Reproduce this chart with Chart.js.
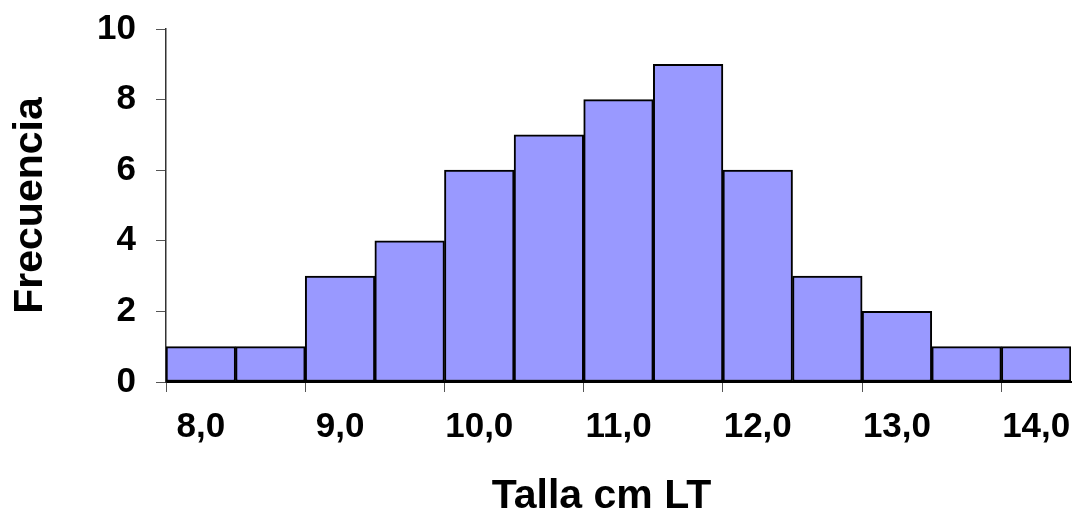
<!DOCTYPE html>
<html>
<head>
<meta charset="utf-8">
<script src="https://cdn.jsdelivr.net/npm/chart.js@4.4.1/dist/chart.umd.min.js"></script>
<style>
  html, body { margin: 0; padding: 0; background: #fff; }
  #wrap { width: 1076px; height: 514px; }
</style>
</head>
<body>
<div id="wrap"><canvas id="myChart" width="1076" height="514"></canvas></div>
<script>
// size classes (cm LT), every other one gets a label
const tallas = ['8,0', '8,5', '9,0', '9,5', '10,0', '10,5', '11,0', '11,5', '12,0', '12,5', '13,0', '13,5', '14,0'];
const frecuencia = [1, 1, 3, 4, 6, 7, 8, 9, 6, 3, 2, 1, 1];
const yTicks = [0, 2, 4, 6, 8, 10];
const xTitle = 'Talla cm LT';

const FONT = "'Liberation Sans', Arial, sans-serif";

// x title sits a bit left of the plot centre in the original
const xTitlePlugin = {
    id: 'xTitle',
    afterDraw(chart) {
        const c = chart.ctx;
        const area = chart.chartArea;
        c.save();
        c.font = 'bold 41px ' + FONT;
        c.fillStyle = '#000000';
        c.textAlign = 'center';
        c.textBaseline = 'middle';
        c.fillText(xTitle, (area.left + area.right) / 2 - 17, chart.height - 17);
        c.restore();
    }
};

const ctx = document.getElementById('myChart').getContext('2d');

new Chart(ctx, {
    type: 'bar',
    data: {
        labels: tallas,
        datasets: [{
            data: frecuencia,
            backgroundColor: '#9999ff',
            borderColor: '#000000',
            borderWidth: 2,
            borderSkipped: false,
            categoryPercentage: 1.0,
            barPercentage: 1.0
        }]
    },
    plugins: [xTitlePlugin],
    options: {
        responsive: false,
        animation: false,
        layout: { padding: { top: 29, right: 5, left: 0, bottom: 0 } },
        plugins: {
            legend: { display: false },
            tooltip: { enabled: false }
        },
        scales: {
            x: {
                afterFit: function(scale) {
                    scale.height = 514 - 382;
                    scale.paddingLeft = 0;
                    scale.paddingRight = 0;
                },
                grid: {
                    offset: true,
                    drawOnChartArea: false,
                    tickLength: 10,
                    color: function(c) { return c.index % 2 === 0 ? '#555555' : 'rgba(0,0,0,0)'; }
                },
                border: { display: true, color: '#000000', width: 2 },
                ticks: {
                    autoSkip: false,
                    maxRotation: 0,
                    padding: 14,
                    color: '#000000',
                    font: { family: FONT, size: 35, weight: 'bold' },
                    callback: function(value, index) {
                        return index % 2 === 0 ? tallas[index] : '';
                    }
                }
            },
            y: {
                min: 0,
                max: 10,
                afterFit: function(scale) {
                    scale.width = 166;
                    scale.paddingTop = 0;
                    scale.paddingBottom = 0;
                },
                afterBuildTicks: function(scale) {
                    scale.ticks = yTicks.map(v => ({ value: v }));
                },
                grid: {
                    drawOnChartArea: false,
                    tickLength: 10,
                    color: '#555555'
                },
                border: { display: true, color: '#333333', width: 1.5 },
                ticks: {
                    padding: 20,
                    color: '#000000',
                    font: { family: FONT, size: 35, weight: 'bold' }
                },
                title: {
                    display: true,
                    text: 'Frecuencia',
                    color: '#000000',
                    font: { family: FONT, size: 41, weight: 'bold', lineHeight: 1.0 },
                    padding: { top: 10, bottom: 0 }
                }
            }
        }
    }
});
</script>
</body>
</html>
